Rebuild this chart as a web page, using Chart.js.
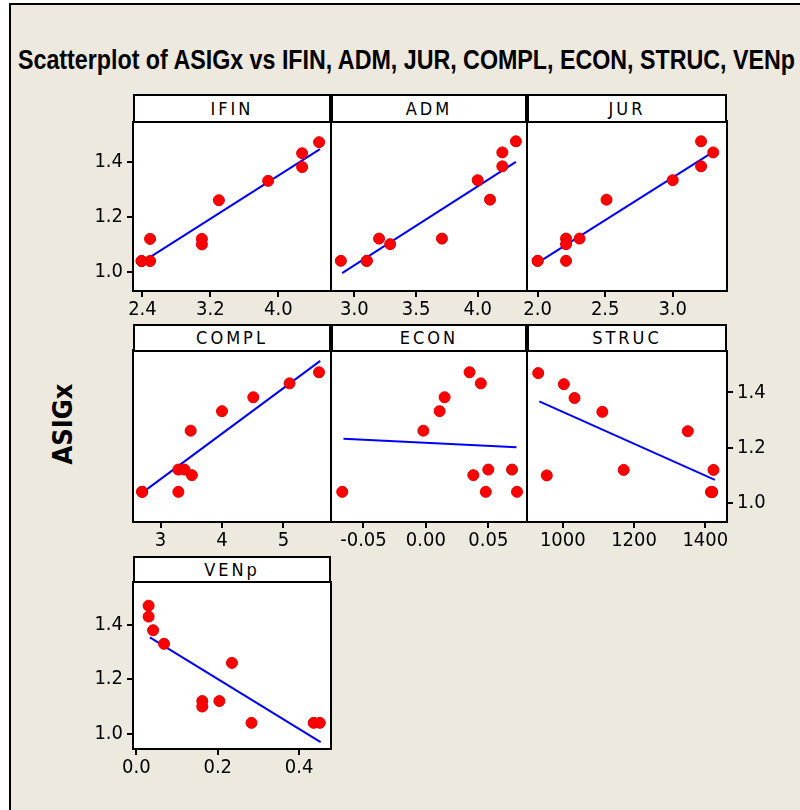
<!DOCTYPE html>
<html>
<head>
<meta charset="utf-8">
<script src="https://cdn.jsdelivr.net/npm/chart.js@4"></script>
<style>
  body { margin: 0; background: #fff; width: 800px; height: 810px; overflow: hidden; position: relative; }
  #frame { position: absolute; left: 9px; top: 3px; width: 900px; height: 900px; border: 2px solid #000; background: #ede9df; }
  #title { position: absolute; left: 18px; top: 47px; font: bold 27px "Liberation Sans Narrow", "Liberation Sans", Arial, sans-serif; line-height: 1; white-space: nowrap; transform-origin: 0 0; color: #000; }
  #ylab { position: absolute; left: 62px; top: 424px; font: bold 27px "DejaVu Sans Condensed", "DejaVu Sans", sans-serif; transform: translate(-50%, -50%) rotate(-90deg); color: #000; }
  .hdr { position: absolute; box-sizing: border-box; border: 2px solid #000; background: #fff; font: 18px "DejaVu Sans Condensed", "DejaVu Sans", sans-serif; letter-spacing: 3px; text-align: center; color: #000; }
  canvas { position: absolute; }
</style>
</head>
<body>
<div id="frame"></div>
<div id="title">Scatterplot of ASIGx vs IFIN, ADM, JUR, COMPL, ECON, STRUC, VENp</div>
<div id="ylab">ASIGx</div>
<script>
// ASIGx values, one per observation
let asigx = [1.47, 1.43, 1.38, 1.33, 1.26, 1.12, 1.12, 1.10, 1.04, 1.04, 1.04];

let ifin  = [4.48, 4.28, 4.28, 3.88, 3.30, 2.49, 3.10, 3.10, 2.39, 2.49, 2.39];
let adm   = [4.31, 4.20, 4.20, 4.00, 4.10, 3.20, 3.71, 3.29, 2.89, 3.10, 3.10];
let jur   = [3.21, 3.30, 3.21, 3.00, 2.51, 2.21, 2.31, 2.21, 2.00, 2.21, 2.00];
let compl = [5.58, 5.10, 4.51, 4.00, 3.49, 3.29, 3.39, 3.51, 2.70, 3.29, 2.70];
let econ  = [0.035, 0.044, 0.015, 0.011, -0.002, 0.050, 0.069, 0.038, -0.067, 0.048, 0.073];
let struc = [931, 1003, 1033, 1111, 1351, 1171, 1423, 955, 1419, 1416, 1419];
let venp  = [0.030, 0.030, 0.041, 0.068, 0.235, 0.162, 0.204, 0.162, 0.283, 0.436, 0.451];

// fitted line end points: [x1, y1, x2, y2]
let ifinFit  = [2.49, 1.054, 4.49, 1.445];
let admFit   = [2.90, 0.996, 4.31, 1.396];
let jurFit   = [2.04, 1.045, 3.30, 1.432];
let complFit = [2.72, 1.040, 5.60, 1.511];
let econFit  = [-0.066, 1.231, 0.0726, 1.200];
let strucFit = [934, 1.368, 1427, 1.084];
let venpFit  = [0.033, 1.354, 0.453, 0.969];

// tick labels
let yTicks     = [1.0, 1.2, 1.4];
let ifinTicks  = [2.4, 3.2, 4.0];
let admTicks   = [3.0, 3.5, 4.0];
let jurTicks   = [2.0, 2.5, 3.0];
let complTicks = [3, 4, 5];
let econTicks  = [-0.05, 0.00, 0.05];
let strucTicks = [1000, 1200, 1400];
let venpTicks  = [0.0, 0.2, 0.4];

// layout
let cols = [[133, 330.5], [330.5, 527], [527, 727]];
let rows = [
  { top: 94, plotTop: 121, bottom: 291, ymin: 0.9315, ymax: 1.543 },
  { top: 324, plotTop: 350, bottom: 522, ymin: 0.9315, ymax: 1.550 },
  { top: 556, plotTop: 581, bottom: 749, ymin: 0.944, ymax: 1.557 }
];

let panels = [
  { name: 'IFIN',  x: ifin,  fit: ifinFit,  ticks: ifinTicks,  dec: 1, min: 2.289, max: 4.62,  row: 0, col: 0, yAxis: 'left' },
  { name: 'ADM',   x: adm,   fit: admFit,   ticks: admTicks,   dec: 1, min: 2.81,  max: 4.40,  row: 0, col: 1 },
  { name: 'JUR',   x: jur,   fit: jurFit,   ticks: jurTicks,   dec: 1, min: 1.921, max: 3.402, row: 0, col: 2 },
  { name: 'COMPL', x: compl, fit: complFit, ticks: complTicks, dec: 0, min: 2.551, max: 5.775, row: 1, col: 0 },
  { name: 'ECON',  x: econ,  fit: econFit,  ticks: econTicks,  dec: 2, min: -0.076, max: 0.081, row: 1, col: 1 },
  { name: 'STRUC', x: struc, fit: strucFit, ticks: strucTicks, dec: 0, min: 899.5, max: 1461,  row: 1, col: 2, yAxis: 'right' },
  { name: 'VENp',  x: venp,  fit: venpFit,  ticks: venpTicks,  dec: 1, min: -0.0084, max: 0.4785, row: 2, col: 0, yAxis: 'left' }
];

let tickFont = { family: '"DejaVu Sans Condensed", "DejaVu Sans", sans-serif', size: 20 };

let boxPlugin = {
  id: 'box',
  beforeDraw(c) {
    let a = c.chartArea, ctx = c.ctx;
    ctx.save();
    ctx.fillStyle = '#fff';
    ctx.fillRect(a.left, a.top, a.right - a.left, a.bottom - a.top);
    ctx.restore();
  },
  afterDraw(c) {
    let a = c.chartArea, ctx = c.ctx;
    ctx.save();
    ctx.strokeStyle = '#000';
    ctx.lineWidth = 2;
    ctx.strokeRect(a.left, a.top, a.right - a.left, a.bottom - a.top);
    ctx.restore();
  }
};

const PAD = 50, TOP = 15, BOTTOM = 40;

panels.forEach(p => {
  let r = rows[p.row], c = cols[p.col];
  let L = Math.round(c[0]), R = Math.round(c[1]);

  let hdr = document.createElement('div');
  hdr.className = 'hdr';
  hdr.textContent = p.name;
  hdr.style.left = L + 'px';
  hdr.style.top = r.top + 'px';
  hdr.style.width = (R - L) + 'px';
  hdr.style.height = (r.plotTop - r.top + 2) + 'px';
  hdr.style.lineHeight = (r.plotTop - r.top - 2) + 'px';

  let cv = document.createElement('canvas');
  cv.width = R - L + 2 * PAD;
  cv.height = r.bottom - r.plotTop + TOP + BOTTOM;
  cv.style.left = (L - PAD) + 'px';
  cv.style.top = (r.plotTop - TOP) + 'px';
  document.body.appendChild(cv);
  document.body.appendChild(hdr);

  new Chart(cv.getContext('2d'), {
    type: 'scatter',
    data: {
      datasets: [{
        data: p.x.map((v, i) => ({ x: v, y: asigx[i] })),
        backgroundColor: '#ff0000',
        borderColor: '#e00000',
        borderWidth: 1,
        pointRadius: 5.5
      }, {
        type: 'line',
        data: [{ x: p.fit[0], y: p.fit[1] }, { x: p.fit[2], y: p.fit[3] }],
        borderColor: '#0000ff',
        borderWidth: 2,
        pointRadius: 0,
        fill: false
      }]
    },
    options: {
      responsive: false,
      animation: false,
      events: [],
      layout: { padding: {
        left: p.yAxis === 'left' ? 0 : PAD,
        right: p.yAxis === 'right' ? 0 : PAD,
        top: TOP, bottom: 0 } },
      plugins: { legend: { display: false }, tooltip: { enabled: false } },
      scales: {
        x: {
          type: 'linear',
          min: p.min,
          max: p.max,
          afterFit: s => { s.height = BOTTOM; },
          afterBuildTicks: s => { s.ticks = p.ticks.map(v => ({ value: v })); },
          ticks: { font: tickFont, color: '#000', padding: 1, maxRotation: 0, autoSkip: false, callback: v => v.toFixed(p.dec) },
          grid: { drawOnChartArea: false, tickLength: 6, color: '#000', lineWidth: 2 },
          border: { display: false }
        },
        y: {
          display: !!p.yAxis,
          position: p.yAxis || 'left',
          min: r.ymin,
          max: r.ymax,
          afterFit: s => { if (p.yAxis) s.width = PAD; },
          afterBuildTicks: s => { s.ticks = yTicks.map(v => ({ value: v })); },
          ticks: { font: tickFont, color: '#000', padding: 4, autoSkip: false, callback: v => v.toFixed(1) },
          grid: { drawOnChartArea: false, tickLength: 6, color: '#000', lineWidth: 2 },
          border: { display: false }
        }
      }
    },
    plugins: [boxPlugin]
  });
});

// stretch the title to the width it has in the picture
let t = document.getElementById('title');
let tw = t.getBoundingClientRect().width;
t.style.transform = 'scaleX(' + (777 / tw) + ')';
</script>
</body>
</html>
